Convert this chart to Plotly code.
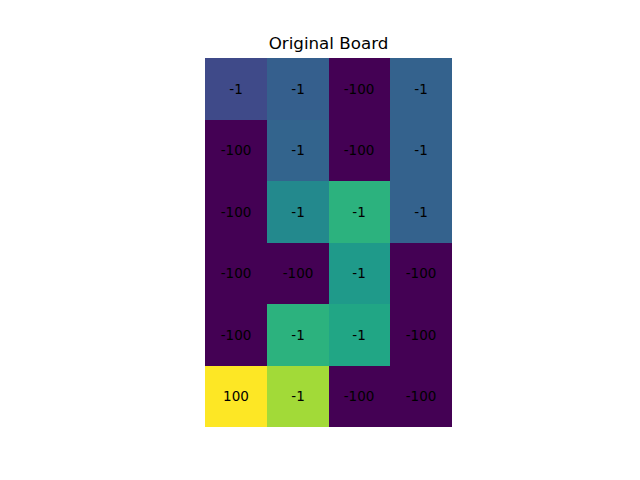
import plotly.graph_objects as go

board = [
    [-1, -1, -100, -1],
    [-100, -1, -100, -1],
    [-100, -1, -1, -1],
    [-100, -100, -1, -100],
    [-100, -1, -1, -100],
    [100, -1, -100, -100],
]
# colour levels (viridis fraction)
levels = [
    [0.22, 0.30, 0.0, 0.31],
    [0.0, 0.32, 0.0, 0.31],
    [0.0, 0.47, 0.64, 0.31],
    [0.0, 0.0, 0.54, 0.0],
    [0.0, 0.64, 0.59, 0.0],
    [1.0, 0.86, 0.0, 0.0],
]

text = [[str(v) for v in row] for row in board]

viridis_hex = ["#440154", "#471365", "#482475", "#463480", "#414487", "#3b528b",
               "#355f8d", "#2f6c8e", "#2a788e", "#25848e", "#21918c", "#1e9c89",
               "#22a884", "#2fb47c", "#44bf70", "#5ec962", "#7ad151", "#9bd93c",
               "#bddf26", "#dfe318", "#fde725"]
viridis = [[i / 20, c] for i, c in enumerate(viridis_hex)]

fig = go.Figure(go.Heatmap(
    z=levels, text=text, texttemplate="%{text}",
    textfont=dict(family="DejaVu Sans", size=13.5, color="black"),
    colorscale=viridis, zmin=0, zmax=1, showscale=False,
    xgap=0, ygap=0, hoverinfo="skip",
))
fig.update_layout(
    width=640, height=480,
    margin=dict(l=205, r=188, t=58, b=53),
    paper_bgcolor="white", plot_bgcolor="white",
    title=dict(text="Original Board", x=(205 + 452) / 2 / 640, xanchor="center",
               y=1 - 43 / 480, yanchor="middle", yref="container",
               font=dict(family="DejaVu Sans", size=16.7, color="black")),
    xaxis=dict(range=[-0.5, 3.5], visible=False),
    yaxis=dict(range=[5.5, -0.5], visible=False),
)
fig.write_html("out.html")
